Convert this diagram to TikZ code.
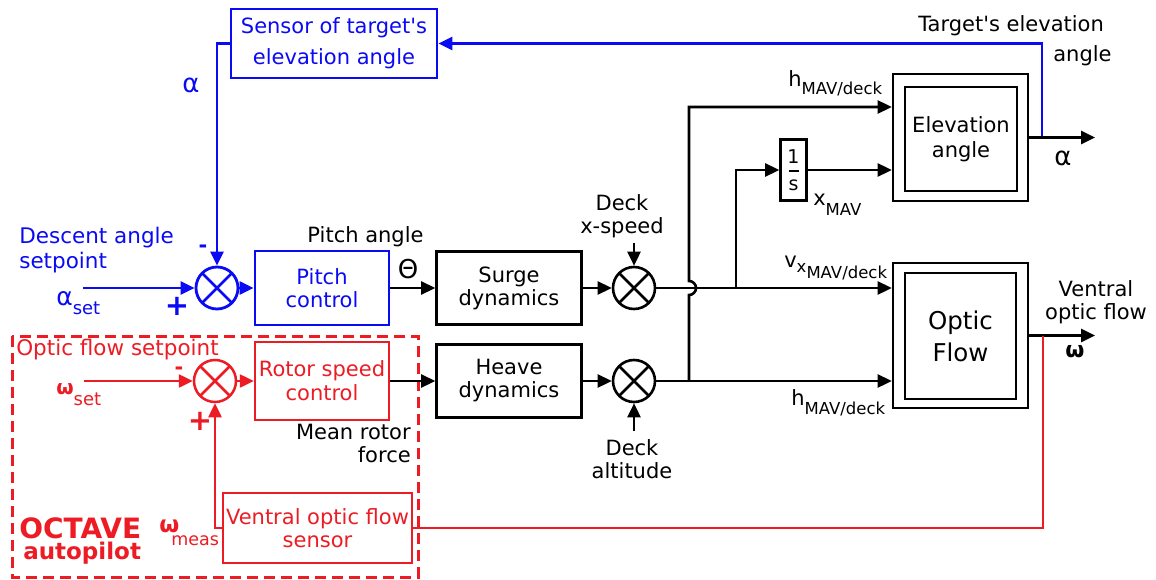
\documentclass[tikz,border=0pt]{standalone}
\usepackage{fontspec}
\setmainfont{DejaVu Sans}[Ligatures=TeXOff]
\usetikzlibrary{arrows.meta,calc}
\definecolor{cblue}{RGB}{10,10,245}
\definecolor{cred}{RGB}{237,28,36}
\newcommand{\fs}[2]{\fontsize{#1}{#2}\selectfont}
\begin{document}
\begin{tikzpicture}[x=1pt,y=-1pt,
  line width=2.6pt,
  box/.style={draw, rectangle, align=center, inner sep=0pt, font=\fs{21}{23}},
  sumj/.style={circle, draw=#1, minimum size=42pt, inner sep=0pt,
    path picture={\draw[#1] (path picture bounding box.center) +(45:21pt) -- +(225:21pt) +(135:21pt) -- +(-45:21pt);}},
  arr/.style={-{Triangle[length=14pt,width=13pt]}},
  lbl/.style={inner sep=0pt, align=center, font=\fs{21}{23}},
  redl/.style={cred, line width=2.5pt}
]
\fill[white] (0,0) rectangle (1156,580);
\useasboundingbox (0,0) rectangle (1156,580);

% dashed autopilot frame
\draw[cred, line width=3pt, dash pattern=on 11pt off 6pt] (12,336) rectangle (418,577);

% boxes
\node[box, cblue, line width=2.8pt, minimum width=206pt, minimum height=69pt, font=\fs{21}{31}] (sensor) at (334,43.5) {Sensor of target's\\elevation angle};
\node[box, cblue, line width=2.8pt, minimum width=134pt, minimum height=74pt] (pitch) at (322,288) {Pitch\\control};
\node[box, minimum width=145pt, minimum height=73pt] (surge) at (509,288) {Surge\\dynamics};
\node[box, minimum width=145pt, minimum height=73pt] (heave) at (509,381) {Heave\\dynamics};
\node[box, cred, line width=2.5pt, minimum width=134pt, minimum height=78pt, font=\fs{21}{24}] (rotor) at (322,381) {Rotor speed\\control};
\node[box, cred, line width=2.5pt, minimum width=189pt, minimum height=70pt] (vsens) at (317.5,528) {Ventral optic flow\\sensor};
\node[box, minimum width=26pt, minimum height=61pt, font=\fs{19}{27}] (integ) at (793.5,170) {1\\s};
\draw[line width=1.8pt] ($(integ.center)+(-5pt,-1pt)$) -- ($(integ.center)+(5pt,-1pt)$);

\node[draw, minimum width=135pt, minimum height=127pt] (elev) at (960.5,137.5) {};
\node[box, minimum width=112pt, minimum height=104pt, font=\fs{21}{25}] (elevin) at (961,139) {Elevation\\angle};
\node[draw, minimum width=135pt, minimum height=145pt] (optic) at (960.5,335.5) {};
\node[box, minimum width=111pt, minimum height=126pt, font=\fs{24.5}{32}] (opticin) at (960.5,336) {Optic\\Flow};

% summing junctions
\node[sumj=cblue, line width=2.8pt] (s1) at (217,288) {};
\node[sumj=black] (s2) at (634,288) {};
\node[sumj=black] (s3) at (634,381) {};
\node[sumj=cred, line width=2.5pt] (s4) at (215,381) {};

% coordinates
\coordinate (aset) at (83,288);
\coordinate (wset) at (84,381);
\coordinate (dxs) at (634,243);
\coordinate (dalt) at (634,431);
\coordinate (aout) at (1095,137.5);
\coordinate (wout) at (1095,335.5);
\coordinate (bj) at (1042,137.5);
\coordinate (rj) at (1043,335.5);
\coordinate (br) at (736,288);
\coordinate (hj) at (689,381);
\coordinate (hup) at (689,107);

% connectors
\draw[cblue, line width=2.8pt, arr] (bj) |- (sensor.east);
\draw[cblue, line width=2.8pt, arr] (sensor.west) -| (s1.north);
\draw[cblue, line width=2.8pt, arr] (aset) -- (s1.west);
\draw[cblue, line width=2.8pt, arr] (s1.east) -- (pitch.west);
\draw[arr] (pitch.east) -- (surge.west);
\draw[arr] (surge.east) -- (s2.west);
\draw[arr] (dxs) -- (s2.north);
\draw[arr] (s2.east) -- (s2.east -| optic.west);
\draw[arr] (br) |- (integ.west);
\draw[arr] (integ.east) -- (integ.east -| elev.west);
\draw[arr] (elev.east) -- (aout);
\draw[arr] (optic.east) -- (wout);
\draw[arr] (hj) -- (689,295) arc[start angle=-90, end angle=90, radius=7pt] -- (hup) -- (hup -| elev.west);
\draw[arr] (rotor.east) -- (heave.west);
\draw[arr] (heave.east) -- (s3.west);
\draw[arr] (dalt) -- (s3.south);
\draw[arr] (s3.east) -- (s3.east -| optic.west);
\draw[redl] (rj) |- (vsens.east);
\draw[redl, arr] (vsens.west) -| (s4.south);
\draw[redl, arr] (wset) -- (s4.west);
\draw[redl, arr] (s4.east) -- (rotor.west);

% blue labels
\node[lbl, cblue, font=\fs{26}{26}] (alab) at (191,85) {α};
\node[lbl, cblue, anchor=west, align=left, font=\fs{21.5}{25}] (desc) at (18,250) {Descent angle\\setpoint};
\node[lbl, cblue, anchor=base west] (asetl) at (55,305) {\fs{25}{25}α\raisebox{-9pt}{\fs{18}{18}set}};
\node[lbl, cblue, anchor=base, font=\bfseries\fs{21}{21}] (minus1) at (203,252) {-};
\node[lbl, cblue, font=\bfseries\fs{29}{29}] (plus1) at (177,306) {+};

% black labels
\node[lbl, anchor=base, font=\fs{21}{21}] (pal) at (365.5,242) {Pitch angle};
\node[lbl, font=\fs{26}{26}] (theta) at (408,269) {Θ};
\node[lbl] (dxsl) at (622,216) {Deck\\x-speed};
\node[lbl] (daltl) at (632,459.5) {Deck\\altitude};
\node[lbl, anchor=east, align=right] (mrf) at (412,443) {Mean rotor\\force};
\node[lbl, anchor=base west] (h1) at (787,87) {h\raisebox{-8pt}{\fs{16.5}{16.5}MAV/deck}};
\node[lbl, anchor=base west] (xm) at (812,205) {x\raisebox{-10pt}{\fs{16.5}{16.5}MAV}};
\node[lbl, anchor=base west] (vx) at (783,267) {v\raisebox{-5pt}{\fs{16.5}{16.5}x}\raisebox{-11pt}{\fs{16.5}{16.5}MAV/deck}};
\node[lbl, anchor=base west] (h2) at (790,405) {h\raisebox{-9pt}{\fs{16.5}{16.5}MAV/deck}};
\node[lbl, anchor=base west] (tea1) at (917,32) {Target's elevation};
\node[lbl, anchor=base west] (tea2) at (1052,62) {angle};
\node[lbl, font=\fs{26}{26}] (aright) at (1063,158) {α};
\node[lbl] (vof) at (1096,302.5) {Ventral\\optic flow};
\node[lbl, font=\bfseries\fs{22}{22}] (wright) at (1075,352) {ω};

% red labels
\node[lbl, cred, anchor=base west, font=\fs{21.5}{21.5}] (ofs) at (15,355) {Optic flow setpoint};
\node[lbl, cred, anchor=base west] (wsetl) at (55,394) {\bfseries\fs{20}{20}ω\raisebox{-11pt}{\mdseries\fs{18}{18}set}};
\node[lbl, cred, anchor=base, font=\bfseries\fs{21}{21}] (minus2) at (179,374) {-};
\node[lbl, cred, font=\bfseries\fs{29}{29}] (plus2) at (200,421) {+};
\node[lbl, cred, anchor=base west, font=\bfseries\fs{23}{23}] (wm) at (158,532) {ω};
\node[lbl, cred, anchor=base west, font=\fs{17.5}{17.5}] (meas) at (170,545) {meas};
\node[lbl, cred, anchor=base west, font=\bfseries\fs{28}{28}] (oct) at (18,538) {OCTAVE};
\node[lbl, cred, anchor=base west, font=\bfseries\fs{23}{23}] (auto) at (22,559) {autopilot};
\end{tikzpicture}
\end{document}
